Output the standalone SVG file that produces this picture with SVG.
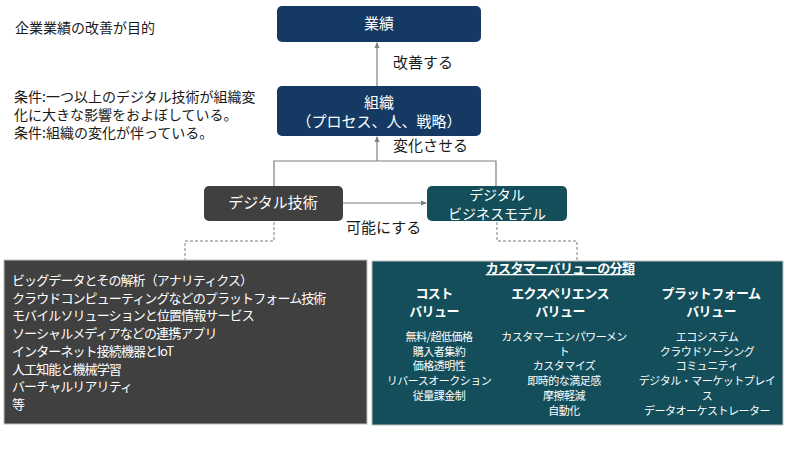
<svg xmlns="http://www.w3.org/2000/svg" width="800" height="450" viewBox="0 0 800 450">
<defs>
<style>
text{font-family:"Noto Sans CJK JP","Liberation Sans",sans-serif;}
.dk{fill:#1a1a1a;font-size:14px;}
.lbl{fill:#1a1a1a;font-size:15px;}
.wt{fill:#ffffff;font-size:15px;text-anchor:middle;}
.navy{fill:#143A63;}
.teal{fill:#134E5A;}
.gray{fill:#404040;}
.conn{stroke:#7F7F7F;stroke-width:1.2;fill:none;}
.dash{stroke:#7F7F7F;stroke-width:1;fill:none;stroke-dasharray:3,2;}
.list{fill:#ffffff;font-size:13px;letter-spacing:-0.9px;}
.hd{fill:#ffffff;font-size:13px;font-weight:bold;text-anchor:middle;letter-spacing:-0.6px;}
.it{fill:#ffffff;font-size:11px;text-anchor:middle;letter-spacing:-0.5px;}
</style>
<marker id="ah" markerWidth="6" markerHeight="6" refX="5" refY="3" orient="auto" markerUnits="userSpaceOnUse">
<path d="M0,0.5 L6,3 L0,5.5 Z" fill="#7F7F7F"/>
</marker>
</defs>
<rect width="800" height="450" fill="#ffffff"/>

<g id="notes">
<text class="dk" x="15" y="33">企業業績の改善が目的</text>
<text class="dk" x="14" y="102">条件:一つ以上のデジタル技術が組織変</text>
<text class="dk" x="14" y="120">化に大きな影響をおよぼしている。</text>
<text class="dk" x="14" y="138">条件:組織の変化が伴っている。</text>
</g>

<g id="connectors">
<line class="conn" x1="377" y1="86" x2="377" y2="43" marker-end="url(#ah)"/>
<polyline class="conn" points="274,186 274,161 496,161 496,186"/>
<line class="conn" x1="377" y1="161" x2="377" y2="137" marker-end="url(#ah)"/>
<line class="conn" x1="343" y1="203" x2="426" y2="203" marker-end="url(#ah)"/>
<polyline class="dash" points="274,222 274,241 185,241 185,260"/>
<polyline class="dash" points="497,222 497,241 577,241 577,261"/>
<text class="lbl" x="393" y="68">改善する</text>
<text class="lbl" x="393" y="151">変化させる</text>
<text class="lbl" x="346" y="233">可能にする</text>
</g>

<g id="performance">
<rect class="navy" x="277" y="6" width="204" height="36" rx="5"/>
<text class="wt" x="379" y="29">業績</text>
</g>

<g id="organization">
<rect class="navy" x="277" y="86" width="204" height="50" rx="5"/>
<text class="wt" x="379" y="108">組織</text>
<text class="wt" x="379" y="127">（プロセス、人、戦略）</text>
</g>

<g id="digital-tech">
<rect class="gray" x="204" y="186" width="139" height="35" rx="5"/>
<text class="wt" x="273" y="208">デジタル技術</text>
</g>

<g id="digital-bm">
<rect class="teal" x="427" y="186" width="140" height="35" rx="5"/>
<text class="wt" x="497" y="199.5" style="font-size:14px">デジタル</text>
<text class="wt" x="497" y="218.5" style="font-size:14px">ビジネスモデル</text>
</g>

<g id="tech-list">
<rect x="4" y="260" width="363" height="164" fill="#404040" stroke="#BFBFBF" stroke-width="1"/>
<text class="list" x="12" y="285">ビッグデータとその解析（アナリティクス）</text>
<text class="list" x="12" y="302.7">クラウドコンピューティングなどのプラットフォーム技術</text>
<text class="list" x="12" y="320.4">モバイルソリューションと位置情報サービス</text>
<text class="list" x="12" y="338.1">ソーシャルメディアなどの連携アプリ</text>
<text class="list" x="12" y="355.8">インターネット接続機器とIoT</text>
<text class="list" x="12" y="373.5">人工知能と機械学習</text>
<text class="list" x="12" y="391.2">バーチャルリアリティ</text>
<text class="list" x="12" y="408.9">等</text>
</g>

<g id="customer-value">
<rect x="372" y="261" width="411" height="164" fill="#134E5A" stroke="#BFBFBF" stroke-width="1"/>
<text class="hd" x="560" y="273" text-decoration="underline">カスタマーバリューの分類</text>
<text class="hd" x="434" y="298">コスト</text>
<text class="hd" x="434" y="316">バリュー</text>
<text class="hd" x="560" y="298">エクスペリエンス</text>
<text class="hd" x="560" y="316">バリュー</text>
<text class="hd" x="711" y="298">プラットフォーム</text>
<text class="hd" x="711" y="316">バリュー</text>
<text class="it" x="439" y="341">無料/超低価格</text>
<text class="it" x="439" y="355.7">購入者集約</text>
<text class="it" x="439" y="370.4">価格透明性</text>
<text class="it" x="439" y="385.1">リバースオークション</text>
<text class="it" x="439" y="399.8">従量課金制</text>
<text class="it" x="564" y="341">カスタマーエンパワーメン</text>
<text class="it" x="564" y="355.7">ト</text>
<text class="it" x="564" y="370.4">カスタマイズ</text>
<text class="it" x="564" y="385.1">即時的な満足感</text>
<text class="it" x="564" y="399.8">摩擦軽減</text>
<text class="it" x="564" y="414.5">自動化</text>
<text class="it" x="707" y="341">エコシステム</text>
<text class="it" x="707" y="355.7">クラウドソーシング</text>
<text class="it" x="707" y="370.4">コミュニティ</text>
<text class="it" x="707" y="385.1">デジタル・マーケットプレイ</text>
<text class="it" x="707" y="399.8">ス</text>
<text class="it" x="707" y="414.5">データオーケストレーター</text>
</g>
</svg>
